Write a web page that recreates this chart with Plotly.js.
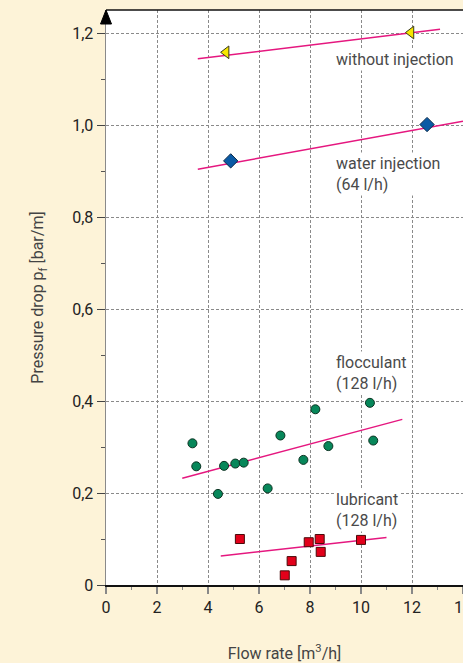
<!DOCTYPE html>
<html>
<head>
<meta charset="utf-8">
<script src="https://cdn.plot.ly/plotly-3.0.1.min.js"></script>
<style>
  html, body { margin: 0; padding: 0; background: #fdf3d8; overflow: hidden; }
  #chart { width: 463px; height: 663px; }
</style>
</head>
<body>
<div id="chart"></div>
<script>
// ---- data ----
const withoutX = [4.71, 11.96];
const withoutY = [1.158, 1.201];
const withoutFitX = [3.6, 13.1];
const withoutFitY = [1.144, 1.208];

const waterX = [4.89, 12.59];
const waterY = [0.922, 1.001];
const waterFitX = [3.6, 14.0];
const waterFitY = [0.904, 1.008];

const floccX = [3.39, 3.54, 4.39, 4.63, 5.07, 5.40, 6.34, 6.84, 7.74, 8.21, 8.72, 10.35, 10.48];
const floccY = [0.308, 0.258, 0.198, 0.259, 0.264, 0.266, 0.210, 0.325, 0.272, 0.382, 0.302, 0.396, 0.314];
const floccFitX = [2.99, 11.62];
const floccFitY = [0.232, 0.360];

const lubX = [5.25, 7.01, 7.28, 7.95, 8.38, 8.42, 10.0];
const lubY = [0.100, 0.021, 0.052, 0.093, 0.100, 0.072, 0.098];
const lubFitX = [4.5, 11.0];
const lubFitY = [0.063, 0.1035];

const xTickVals = [0, 2, 4, 6, 8, 10, 12, 14];
const xTickText = ["0", "2", "4", "6", "8", "10", "12", "14"];
const yTickVals = [0, 0.2, 0.4, 0.6, 0.8, 1.0, 1.2];
const yTickText = ["0", "0,2", "0,4", "0,6", "0,8", "1,0", "1,2"];

const seriesLabels = ["without injection", "water injection<br>(64 l/h)", "flocculant<br>(128 l/h)", "lubricant<br>(128 l/h)"];
const labelX = [8.93, 8.93, 8.93, 8.93];
const labelY = [1.142, 0.894, 0.460, 0.162];

// ---- styling ----
const FONT = "Roboto, 'Liberation Sans', Arial, sans-serif";
const fitColor = "#e5177f";
const fitLine = {color: fitColor, width: 1.5};

function fit(x, y) {
  return {x: x, y: y, type: "scatter", mode: "lines", line: fitLine, hoverinfo: "skip", showlegend: false};
}

const traces = [
  fit(withoutFitX, withoutFitY),
  fit(waterFitX, waterFitY),
  fit(floccFitX, floccFitY),
  fit(lubFitX, lubFitY),
  {x: withoutX, y: withoutY, type: "scatter", mode: "markers", name: "without injection",
   marker: {symbol: "triangle-left", size: 11, color: "#f7e600", line: {color: "#3a3a1a", width: 1}}},
  {x: waterX, y: waterY, type: "scatter", mode: "markers", name: "water injection",
   marker: {symbol: "diamond", size: 11, color: "#0a5aa5", line: {color: "#0b2a4a", width: 1}}},
  {x: floccX, y: floccY, type: "scatter", mode: "markers", name: "flocculant",
   marker: {symbol: "circle", size: 9, color: "#07875a", line: {color: "#0b3322", width: 1}}},
  {x: lubX, y: lubY, type: "scatter", mode: "markers", name: "lubricant",
   marker: {symbol: "square", size: 9, color: "#e2001a", line: {color: "#4a0a0a", width: 1}}}
];

const annotations = seriesLabels.map((t, i) => ({
  x: labelX[i], y: labelY[i], xref: "x", yref: "y",
  text: t, showarrow: false, xanchor: "left", yanchor: "middle", align: "left",
  bgcolor: "#ffffff", borderpad: 1,
  font: {family: FONT, size: 16, color: "#4a4a4a"}
}));

const layout = {
  width: 463, height: 663,
  paper_bgcolor: "#fdf3d8",
  plot_bgcolor: "#ffffff",
  margin: {l: 106, r: 0, t: 10, b: 78, pad: 0},
  showlegend: false,
  font: {family: FONT, size: 16, color: "#222"},
  xaxis: {
    range: [0, 14], fixedrange: true,
    tickvals: xTickVals, ticktext: xTickText,
    ticks: "outside", ticklen: 7, tickwidth: 1.5, tickcolor: "#888",
    tickfont: {family: FONT, size: 16, color: "#222"},
    ticklabeloverflow: "allow",
    showline: true, linecolor: "#111", linewidth: 1.5,
    showgrid: true, gridcolor: "#8a8a8a", gridwidth: 1, griddash: "3px,2px",
    zeroline: false,
    minor: {dtick: 1, tick0: 1, ticks: "outside", ticklen: 3, tickcolor: "#888", tickwidth: 1.2, showgrid: false},
    title: {text: "Flow rate [m<sup>3</sup>/h]", font: {family: FONT, size: 16, color: "#444"}, standoff: 33}
  },
  yaxis: {
    range: [0, 1.25], fixedrange: true,
    tickvals: yTickVals, ticktext: yTickText,
    ticks: "outside", ticklen: 8, tickwidth: 1, tickcolor: "#444",
    tickfont: {family: FONT, size: 16, color: "#222"},
    showline: true, linecolor: "#8a8a8a", linewidth: 1.5,
    showgrid: true, gridcolor: "#8a8a8a", gridwidth: 1, griddash: "3px,2px",
    zeroline: false,
    minor: {dtick: 0.2, tick0: 0.1, ticks: "outside", ticklen: 4, tickcolor: "#555", tickwidth: 1, showgrid: false},
    title: {text: "Pressure drop p<sub>f</sub> [bar/m]", font: {family: FONT, size: 16, color: "#444"}, standoff: 24}
  },
  annotations: annotations,
  shapes: [
    {type: "line", xref: "paper", yref: "paper", x0: 0, x1: 1, y0: 1, y1: 1,
     line: {color: "#111", width: 1.5}, layer: "above"},
    {type: "path", xref: "paper", yref: "paper", xsizemode: "pixel", ysizemode: "pixel",
     xanchor: 0, yanchor: 1, path: "M -5.5 -14 L 0 0 L 5.5 -14 Z",
     fillcolor: "#000", line: {color: "#000", width: 1}, layer: "above"}
  ]
};

Plotly.newPlot("chart", traces, layout, {displayModeBar: false, staticPlot: true});
</script>
</body>
</html>
